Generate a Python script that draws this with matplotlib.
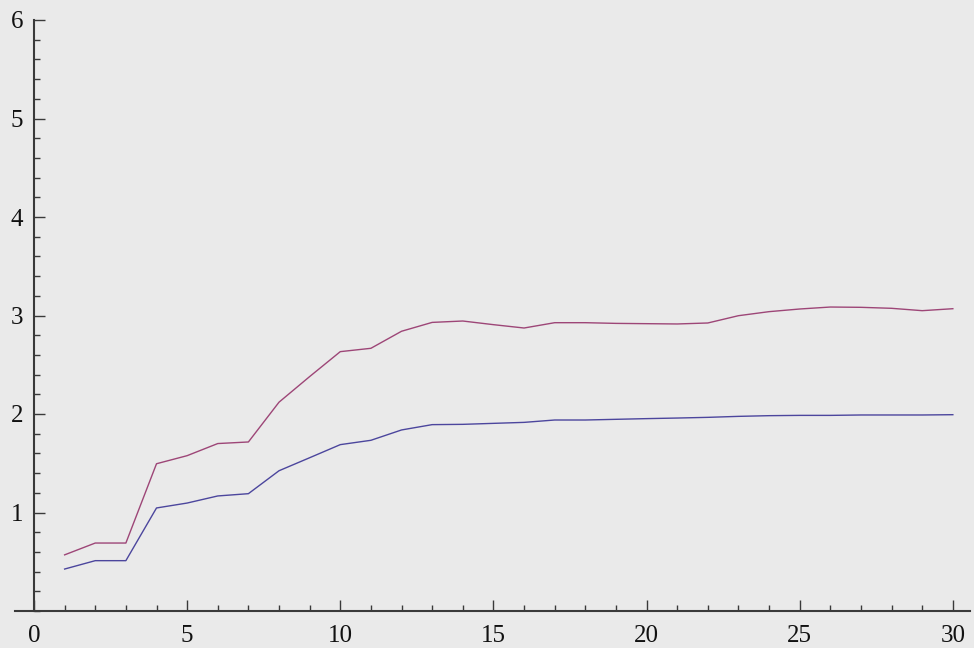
import numpy as np
import matplotlib
matplotlib.use("Agg")
import matplotlib.pyplot as plt
from matplotlib.ticker import MultipleLocator, FixedLocator, FuncFormatter

x = list(range(1, 31))
upper = [0.57, 0.69, 0.69, 1.495, 1.577, 1.70, 1.716, 2.12, 2.38, 2.633,
         2.667, 2.84, 2.93, 2.944, 2.907, 2.873, 2.927, 2.927, 2.92, 2.917,
         2.914, 2.924, 2.998, 3.039, 3.066, 3.086, 3.083, 3.073, 3.049, 3.069]
lower = [0.426, 0.511, 0.511, 1.046, 1.096, 1.168, 1.191, 1.424, 1.556, 1.689,
         1.733, 1.838, 1.892, 1.895, 1.905, 1.915, 1.939, 1.939, 1.946, 1.953,
         1.959, 1.966, 1.976, 1.983, 1.986, 1.986, 1.99, 1.99, 1.99, 1.993]
x_ticks = [0, 5, 10, 15, 20, 25, 30]
y_ticks = [1, 2, 3, 4, 5, 6]

bg = "#EAEAEA"
W, H = 974, 648
fig = plt.figure(figsize=(W / 100, H / 100), dpi=100, facecolor=bg)
left_px, right_px = 15, 970
bottom_px, top_px = 611, 20
ax = fig.add_axes([left_px / W, (H - bottom_px) / H,
                   (right_px - left_px) / W, (bottom_px - top_px) / H])
ax.set_facecolor(bg)

ax.plot(x, lower, color=(0.264, 0.24, 0.6), lw=1.0, alpha=0.95)
ax.plot(x, upper, color=(0.6, 0.24, 0.442), lw=1.0, alpha=0.95)

ax.set_xlim(-0.62, 30.56)
ax.set_ylim(0, 6)

axis_col = "#3a3a3a"
for s in ("top", "right"):
    ax.spines[s].set_visible(False)
ax.spines["left"].set_position(("data", 0))
ax.spines["bottom"].set_position(("data", 0))
ax.spines["left"].set_bounds(0, 6)
for s in ("left", "bottom"):
    ax.spines[s].set_color(axis_col)
    ax.spines[s].set_linewidth(1.5)

ax.xaxis.set_major_locator(FixedLocator(x_ticks))
ax.xaxis.set_minor_locator(MultipleLocator(1))
ax.yaxis.set_major_locator(FixedLocator(y_ticks))
ax.yaxis.set_minor_locator(MultipleLocator(0.2))
ax.xaxis.set_major_formatter(FuncFormatter(lambda v, p: f"{v:g}"))
ax.yaxis.set_major_formatter(FuncFormatter(lambda v, p: f"{v:g}"))

ax.tick_params(which="both", direction="in", color=axis_col, width=1.0)
ax.tick_params(which="major", length=8, labelsize=18)
ax.tick_params(which="minor", length=4.5)
ax.tick_params(axis="x", which="major", pad=10)
ax.tick_params(axis="y", which="major", pad=8)
for lab in ax.get_xticklabels() + ax.get_yticklabels():
    lab.set_fontfamily("Liberation Serif")
    lab.set_color("#111111")

fig.savefig("out.png", dpi=100, facecolor=bg)
